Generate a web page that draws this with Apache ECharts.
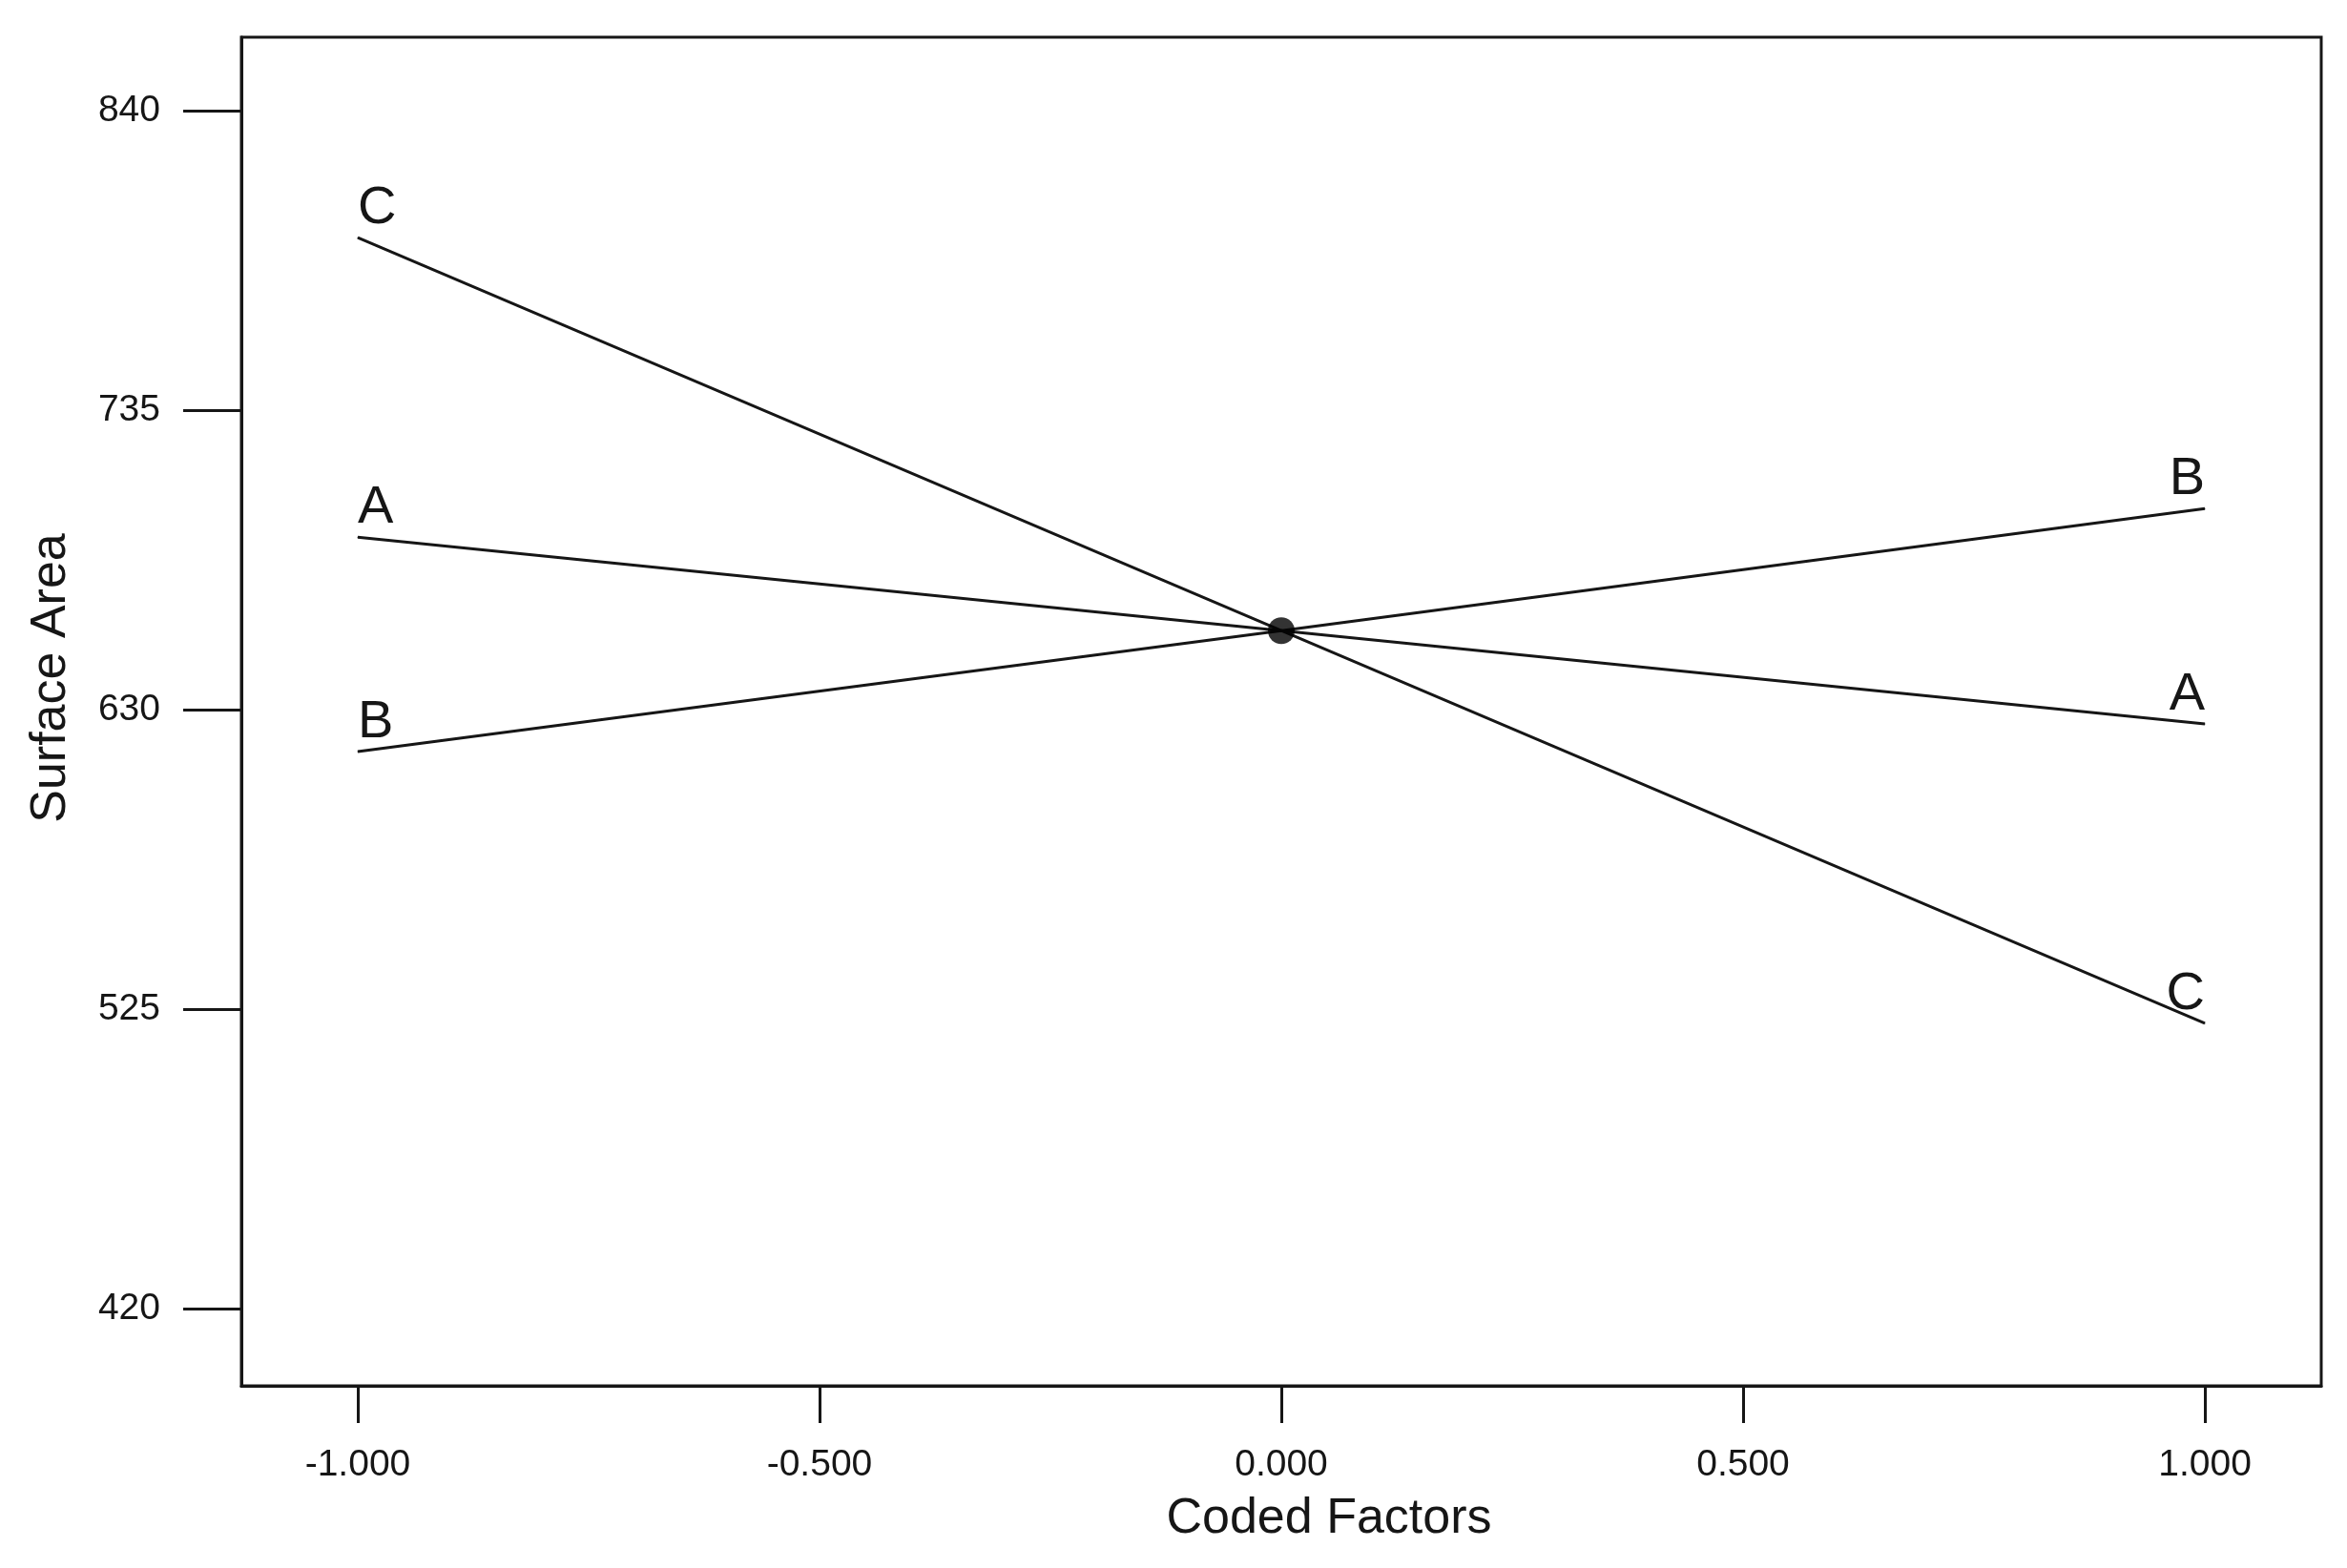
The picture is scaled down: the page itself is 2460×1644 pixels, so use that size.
<!DOCTYPE html>
<html>
<head>
<meta charset="utf-8">
<script src="https://cdn.jsdelivr.net/npm/echarts@6/dist/echarts.min.js"></script>
<style>
  html, body { margin: 0; padding: 0; background: #fff; }
  #main { width: 2460px; height: 1644px; }
</style>
</head>
<body>
<div id="main"></div>
<script>
// coded factor levels
const xCoded = [-1, 0, 1];
// surface area
const seriesA = [690.5, 657.7, 625.0];
const seriesB = [615.3, 657.7, 700.5];
const seriesC = [795.5, 657.7, 520.0];
const factorNames = ['A', 'B', 'C'];
const centerPoint = [0, 657.7];
const xTicks = [-1, -0.5, 0, 0.5, 1];
const yTicks = [420, 525, 630, 735, 840];

const font = 'Liberation Sans, Arial, sans-serif';
const ink = '#161616';

function makeLine(name, values) {
    let data = values.map(function (v, i) {
        let item = { value: [xCoded[i], v] };
        if (i === 0 || i === values.length - 1) {
            item.label = {
                show: true,
                formatter: name,
                position: 'top',
                distance: 2,
                align: i === 0 ? 'left' : 'right',
                color: ink,
                fontFamily: font,
                fontSize: 56
            };
        }
        return item;
    });
    return {
        name: name,
        type: 'line',
        data: data,
        symbol: 'circle',
        symbolSize: 1,
        showSymbol: true,
        itemStyle: { color: ink },
        lineStyle: { color: ink, width: 3 },
        silent: true,
        z: 2
    };
}

let myChart = echarts.init(document.getElementById('main'));
let option = {
    backgroundColor: '#fff',
    animation: false,
    grid: {
        left: 253,
        top: 39,
        right: 27,
        bottom: 191,
        show: true,
        borderColor: ink,
        borderWidth: 3,
        backgroundColor: 'transparent'
    },
    xAxis: {
        type: 'value',
        min: -1.126,
        max: 1.126,
        name: 'Coded Factors',
        nameLocation: 'middle',
        nameGap: 114,
        nameTextStyle: { color: ink, fontFamily: font, fontSize: 52, padding: [0, 0, 0, 100] },
        axisLine: { show: true, onZero: false, lineStyle: { color: ink, width: 3 } },
        axisTick: { show: true, length: 39, customValues: xTicks, lineStyle: { color: ink, width: 3 } },
        axisLabel: {
            customValues: xTicks,
            margin: 64,
            color: ink,
            fontFamily: font,
            fontSize: 39
        ,
            formatter: function (v) { return v.toFixed(3); }
        },
        splitLine: { show: false }
    },
    yAxis: {
        type: 'value',
        min: 392.9,
        max: 865.8,
        name: 'Surface Area',
        nameLocation: 'middle',
        nameGap: 173,
        nameTextStyle: { color: ink, fontFamily: font, fontSize: 52, padding: [0, 0, 0, 70] },
        axisLine: { show: true, onZero: false, lineStyle: { color: ink, width: 3 } },
        axisTick: { show: true, length: 61, customValues: yTicks, lineStyle: { color: ink, width: 3 } },
        axisLabel: {
            customValues: yTicks,
            margin: 85,
            color: ink,
            fontFamily: font,
            fontSize: 39
        },
        splitLine: { show: false }
    },
    series: [
        makeLine(factorNames[0], seriesA),
        makeLine(factorNames[1], seriesB),
        makeLine(factorNames[2], seriesC),
        {
            name: 'center',
            type: 'scatter',
            data: [centerPoint],
            symbol: 'circle',
            symbolSize: 28,
            itemStyle: { color: '#000' },
            silent: true,
            z: 3
        }
    ]
};
myChart.setOption(option);
</script>
</body>
</html>
